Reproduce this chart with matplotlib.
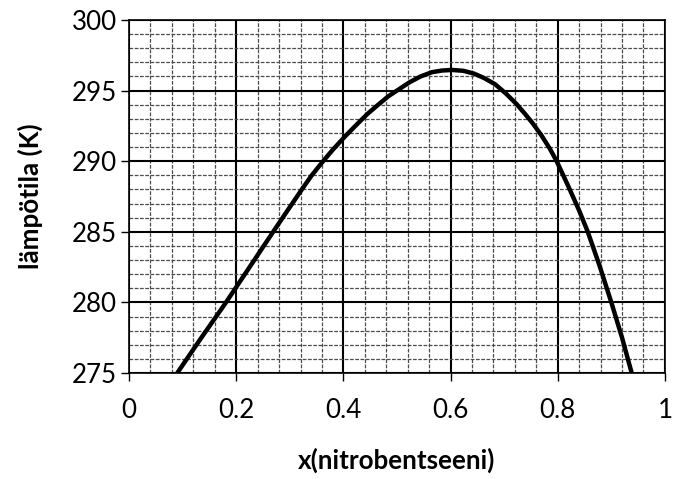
import matplotlib.pyplot as plt
import numpy as np
from matplotlib.ticker import MultipleLocator

# Luettu kuvasta: koostumus ja lämpötila
x_nitro = [0.090, 0.135, 0.181, 0.225, 0.269, 0.296, 0.322, 0.340, 0.360,
           0.380, 0.403, 0.425, 0.445, 0.465, 0.484, 0.506, 0.524, 0.544,
           0.565, 0.584, 0.603, 0.624, 0.644, 0.663, 0.683, 0.703, 0.723,
           0.740, 0.754, 0.770, 0.785, 0.798, 0.820, 0.840, 0.856, 0.878,
           0.900, 0.920, 0.938]
lampotila = [275.0, 277.5, 280.0, 282.5, 285.0, 286.52, 287.97, 288.95, 289.9,
             290.8, 291.75, 292.6, 293.35, 294.0, 294.6, 295.15, 295.6, 296.0,
             296.3, 296.42, 296.46, 296.4, 296.2, 295.88, 295.45, 294.8, 294.05,
             293.3, 292.65, 291.8, 290.9, 290.0, 288.2, 286.5, 285.0, 282.6,
             280.0, 277.5, 275.0]

x_ticks = [0, 0.2, 0.4, 0.6, 0.8, 1]
x_ticklabels = ['0', '0.2', '0.4', '0.6', '0.8', '1']
y_ticks = [275, 280, 285, 290, 295, 300]

plt.rcParams['font.family'] = ['Lato', 'DejaVu Sans']

fig = plt.figure(figsize=(6.73, 4.79), dpi=100)
ax = fig.add_axes([0.1917, 0.2213, 0.7963, 0.7370])

ax.plot(x_nitro, lampotila, color='black', linewidth=3.2,
        solid_joinstyle='round', solid_capstyle='butt', zorder=5)

ax.set_xlim(0, 1)
ax.set_ylim(275, 300)
ax.set_xticks(x_ticks)
ax.set_xticklabels(x_ticklabels)
ax.set_yticks(y_ticks)
ax.xaxis.set_minor_locator(MultipleLocator(0.04))
ax.yaxis.set_minor_locator(MultipleLocator(1))

# ruudukko
ax.grid(which='major', color='black', linewidth=1.5)
ax.grid(which='minor', color='0.3', linewidth=0.9, linestyle=(0, (3, 1.2)))
ax.set_axisbelow(True)

ax.tick_params(which='major', direction='out', length=6, width=1, labelsize=18.7)
ax.tick_params(axis='y', pad=2.5)
ax.tick_params(axis='x', pad=12)
ax.tick_params(which='minor', length=0)
for s in ax.spines.values():
    s.set_color('black')
    s.set_linewidth(1.2)

ax.set_xlabel('x(nitrobentseeni)', fontsize=18.7, fontweight='bold', va='top')
ax.set_ylabel('lämpötila (K)', fontsize=18.7, fontweight='bold')
ax.xaxis.set_label_coords(0.5, -0.212)
ax.yaxis.set_label_coords(-0.16, 0.5)

fig.savefig('out.png', dpi=100)
